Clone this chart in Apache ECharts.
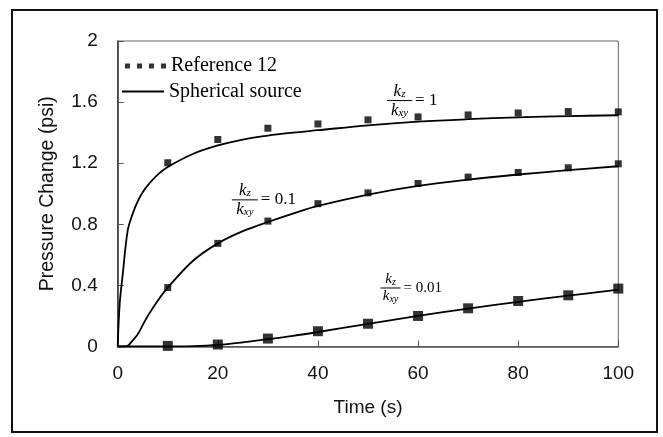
<!DOCTYPE html>
<html>
<head>
<meta charset="utf-8">
<script src="https://cdn.jsdelivr.net/npm/echarts@6/dist/echarts.min.js"></script>
<style>
html,body{margin:0;padding:0;background:#fff;}
#c{width:663px;height:437px;}
</style>
</head>
<body>
<div id="c"></div>
<script>
// ---- data ----
const lineTime = [0, 0.4, 1, 2, 3, 4, 5, 6, 8, 10, 15, 20, 25, 30, 35, 40, 50, 60, 70, 80, 90, 100];
const sphK1   = [0, 0.28, 0.47, 0.76, 0.87, 0.95, 1.01, 1.055, 1.125, 1.175, 1.26, 1.316, 1.355, 1.381, 1.40, 1.416, 1.448, 1.472, 1.488, 1.50, 1.508, 1.514];
const sphK01  = [0, 0, 0, 0.005, 0.04, 0.08, 0.14, 0.2, 0.3, 0.385, 0.56, 0.675, 0.755, 0.815, 0.87, 0.92, 0.995, 1.052, 1.093, 1.126, 1.154, 1.18];
const sphK001 = [0, 0, 0, 0, 0, 0, 0, 0, 0, 0, 0.002, 0.01, 0.027, 0.048, 0.07, 0.095, 0.148, 0.2, 0.248, 0.292, 0.333, 0.372];

const refTime = [10, 20, 30, 40, 50, 60, 70, 80, 90, 100];
const refK1   = [1.203, 1.355, 1.429, 1.457, 1.484, 1.503, 1.516, 1.529, 1.538, 1.536];
const refK01  = [0.386, 0.675, 0.821, 0.935, 1.006, 1.067, 1.109, 1.139, 1.17, 1.196];
const refK001 = [0.004, 0.013, 0.052, 0.10, 0.149, 0.2, 0.25, 0.298, 0.335, 0.379];

const ratioLabels = ['1', '0.1', '0.01'];
const ratioAnchors = [[56.3, 1.61], [25.4, 0.96], [54.5, 0.383]];

const xName = 'Time (s)';
const yName = 'Pressure Change (psi)';
const refName = 'Reference 12';
const sphName = 'Spherical source';

// ---- build ----
const zip = (xs, ys) => xs.map((x, i) => [x, ys[i]]);
const chart = echarts.init(document.getElementById('c'), null, {renderer: 'canvas'});

function lineSeries(vals) {
  return {
    type: 'line', name: sphName, data: zip(lineTime, vals),
    showSymbol: false, smooth: 0.35,
    lineStyle: {color: '#000', width: 1.8}, itemStyle: {color: '#000'}, z: 2
  };
}
function refSeries(vals, size) {
  return {
    type: 'scatter', name: refName, data: zip(refTime, vals),
    symbol: 'rect', symbolSize: size, itemStyle: {color: '#000'}, z: 3
  };
}

const sansFont = 'Liberation Sans, Arial, sans-serif';
const serifFont = 'Liberation Serif, Times New Roman, serif';

chart.setOption({
  animation: false,
  backgroundColor: '#fff',
  grid: {left: 117.7, right: 44.7, top: 41, bottom: 90.5, show: true, borderColor: '#666', borderWidth: 1},
  xAxis: {
    type: 'value', min: 0, max: 100, interval: 20,
    name: xName, nameLocation: 'middle', nameGap: 52,
    nameTextStyle: {fontFamily: sansFont, fontSize: 19, color: '#111'},
    axisLine: {lineStyle: {color: '#555', width: 1.5}},
    axisTick: {inside: true, length: 6, lineStyle: {color: '#555'}},
    axisLabel: {fontFamily: sansFont, fontSize: 19, color: '#111', margin: 18},
    splitLine: {show: false}
  },
  yAxis: {
    type: 'value', min: 0, max: 2, interval: 0.4,
    name: yName, nameLocation: 'middle', nameGap: 60,
    nameTextStyle: {fontFamily: sansFont, fontSize: 19.5, color: '#111'},
    axisLine: {lineStyle: {color: '#333', width: 1.5}},
    axisTick: {inside: true, length: 6, lineStyle: {color: '#555'}},
    axisLabel: {fontFamily: sansFont, fontSize: 19, color: '#111', margin: 20},
    splitLine: {show: false}
  },
  legend: [
    {
      data: [{name: refName, icon: 'path://M0,0h5v5h-5zM12,0h5v5h-5zM24,0h5v5h-5zM36,0h5v5h-5z'}],
      left: 125, top: 56, padding: 0, itemWidth: 41, itemHeight: 5,
      textStyle: {fontFamily: serifFont, fontSize: 20, color: '#000'}, selectedMode: false
    },
    {
      data: [{name: sphName, icon: 'path://M0,0h42v2h-42z'}],
      left: 122, top: 81.5, padding: 0, itemWidth: 42, itemHeight: 2,
      textStyle: {fontFamily: serifFont, fontSize: 20, color: '#000'}, selectedMode: false
    }
  ],
  series: [
    lineSeries(sphK1), lineSeries(sphK01), lineSeries(sphK001),
    refSeries(refK1, 7), refSeries(refK01, 7), refSeries(refK001, 10)
  ]
});

function frac(anchor, val, w, fs) {
  const p = chart.convertToPixel({gridIndex: 0}, anchor);
  const kStyle = {fontSize: fs, fontStyle: 'italic', fontFamily: serifFont, fill: '#000'};
  const sStyle = {fontSize: Math.round(fs * 0.65), fontStyle: 'italic', fontFamily: serifFont, fill: '#000', verticalAlign: 'bottom'};
  return {
    type: 'group', x: p[0], y: p[1], z: 10,
    children: [
      {type: 'line', shape: {x1: -w / 2, y1: 0, x2: w / 2, y2: 0}, style: {stroke: '#000', lineWidth: 1}},
      {type: 'text', x: 0, y: -1, style: {text: '{k|k}{s|z}', rich: {k: kStyle, s: sStyle}, align: 'center', verticalAlign: 'bottom', fill: '#000'}},
      {type: 'text', x: 0, y: 1, style: {text: '{k|k}{s|xy}', rich: {k: kStyle, s: sStyle}, align: 'center', verticalAlign: 'top', fill: '#000'}},
      {type: 'text', x: w / 2 + 3, y: 0, style: {text: '= ' + val, font: fs + 'px ' + serifFont, fill: '#000', align: 'left', verticalAlign: 'middle'}}
    ]
  };
}

chart.setOption({
  graphic: [
    {type: 'rect', shape: {x: 12, y: 10, width: 645, height: 422}, style: {fill: 'none', stroke: '#111', lineWidth: 2}, z: 0, silent: true},
    frac(ratioAnchors[0], ratioLabels[0], 25, 17),
    frac(ratioAnchors[1], ratioLabels[1], 26, 17),
    frac(ratioAnchors[2], ratioLabels[2], 20, 15)
  ]
});
</script>
</body>
</html>
